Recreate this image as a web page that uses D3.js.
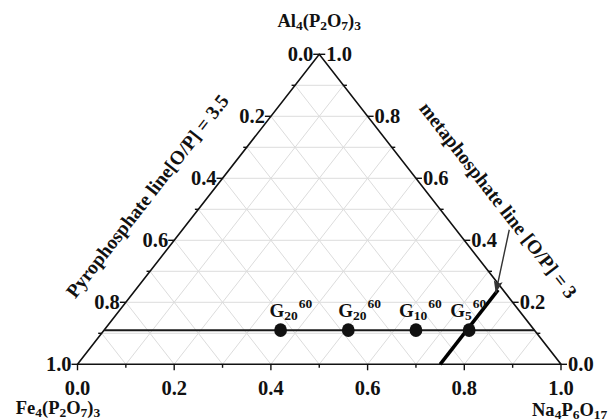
<!DOCTYPE html>
<html>
<head>
<meta charset="utf-8">
<script src="https://cdn.jsdelivr.net/npm/d3@7/dist/d3.min.js"></script>
<style>
html, body { margin: 0; padding: 0; background: #fff; }
#chart svg text { font-family: "Liberation Serif", "Times New Roman", serif; font-weight: bold; fill: #111; }
</style>
</head>
<body>
<div id="chart"></div>
<script>
// samples on the composition line, values as [Na4P6O17, Al4(P2O7)3] fractions
var sampleNames = ['G20', 'G20', 'G10', 'G5'];
var sampleSup = ['60', '60', '60', '60'];
var naFrac = [0.365, 0.505, 0.645, 0.755];
var alFrac = [0.11, 0.11, 0.11, 0.11];

// guide lines, [Na, Al]
var pyroLine = [[0, 0.11], [0.89, 0.11]];
var metaLine = [[0.75, 0], [0.75, 0.24]];
var arrowLine = [[0.676, 0.434], [0.75, 0.23]];

var majorTicks = [0.0, 0.2, 0.4, 0.6, 0.8, 1.0];
var minorTicks = [0.1, 0.3, 0.5, 0.7, 0.9];
var gridValues = [0.1, 0.2, 0.3, 0.4, 0.5, 0.6, 0.7, 0.8, 0.9];

var vertexLabels = {
	top: [['Al', 0], ['4', 1], ['(P', 0], ['2', 1], ['O', 0], ['7', 1], [')', 0], ['3', 1]],
	left: [['Fe', 0], ['4', 1], ['(P', 0], ['2', 1], ['O', 0], ['7', 1], [')', 0], ['3', 1]],
	right: [['Na', 0], ['4', 1], ['P', 0], ['6', 1], ['O', 0], ['17', 1]]
};

var labelShift = [-11, -10, -17, -19];

var W = 613, H = 419;
var svg = d3.select('#chart').append('svg').attr('width', W).attr('height', H);

var x = d3.scaleLinear().domain([0, 1]).range([77.5, 561]);
var y = d3.scaleLinear().domain([0, 1]).range([364.3, 54.3]);
var fmt = d3.format('.1f');

function pt(na, al) {
	return [x(na + al / 2), y(al)];
}

var edgeAngle = Math.atan2(y(1) - y(0), x(0.5) - x(0)) * 180 / Math.PI;

// grid
var grid = svg.append('g').attr('stroke', '#dcdcdc').attr('stroke-width', 1);
gridValues.forEach(function (t) {
	var segs = [
		[pt(0, t), pt(1 - t, t)],
		[pt(t, 0), pt(t, 1 - t)],
		[pt(1 - t, 0), pt(0, 1 - t)]
	];
	segs.forEach(function (s) {
		grid.append('line')
			.attr('x1', s[0][0]).attr('y1', s[0][1])
			.attr('x2', s[1][0]).attr('y2', s[1][1]);
	});
});

// frame
var corners = [pt(0, 0), pt(1, 0), pt(0, 1)];
svg.append('path')
	.attr('d', d3.line()(corners) + 'Z')
	.attr('fill', 'none').attr('stroke', '#111').attr('stroke-width', 1.6);

// ticks
var tk = svg.append('g').attr('stroke', '#111').attr('stroke-width', 1.4);
function addTicks(vals, len) {
	vals.forEach(function (v) {
		var b = pt(v, 0);
		tk.append('line').attr('x1', b[0]).attr('y1', b[1]).attr('x2', b[0]).attr('y2', b[1] + len);
		var l = pt(0, 1 - v);
		tk.append('line').attr('x1', l[0]).attr('y1', l[1]).attr('x2', l[0] - len).attr('y2', l[1]);
		var r = pt(1 - v, v);
		tk.append('line').attr('x1', r[0]).attr('y1', r[1]).attr('x2', r[0] + len).attr('y2', r[1]);
	});
}
addTicks(majorTicks, 6);
addTicks(minorTicks, 3.5);

var tl = svg.append('g').attr('font-size', 20.5);
majorTicks.forEach(function (v) {
	var b = pt(v, 0);
	tl.append('text').attr('x', b[0]).attr('y', 395).attr('text-anchor', 'middle').text(fmt(v));
	var l = pt(0, 1 - v);
	tl.append('text').attr('x', l[0] - 6).attr('y', l[1]).attr('dy', '0.35em').attr('text-anchor', 'end').text(fmt(v));
	var r = pt(1 - v, v);
	tl.append('text').attr('x', r[0] + 7).attr('y', r[1]).attr('dy', '0.35em').attr('text-anchor', 'start').text(fmt(v));
});

// vertex labels
function vertexLabel(parts, px, py, anchor) {
	var t = svg.append('text').attr('x', px).attr('y', py).attr('text-anchor', anchor).attr('font-size', 18.5);
	var prev = 0;
	parts.forEach(function (p) {
		var shift = p[1] ? 2.5 : 0;
		t.append('tspan')
			.attr('dy', shift - prev)
			.attr('font-size', p[1] ? 13.5 : 18.5)
			.text(p[0]);
		prev = shift;
	});
}
vertexLabel(vertexLabels.top, x(0.5), 27, 'middle');
vertexLabel(vertexLabels.left, 58, 414, 'middle');
vertexLabel(vertexLabels.right, 532, 416, 'start');

// pyrophosphate composition line
svg.append('path')
	.attr('d', d3.line()(pyroLine.map(function (d) { return pt(d[0], d[1]); })))
	.attr('stroke', '#1a1a1a').attr('stroke-width', 2).attr('fill', 'none');

// metaphosphate line
svg.append('path')
	.attr('d', d3.line()(metaLine.map(function (d) { return pt(d[0], d[1]); })))
	.attr('stroke', '#000').attr('stroke-width', 3.5).attr('fill', 'none');

// arrow
svg.append('defs').append('marker')
	.attr('id', 'arrowhead')
	.attr('markerUnits', 'userSpaceOnUse')
	.attr('markerWidth', 14).attr('markerHeight', 10)
	.attr('refX', 12).attr('refY', 4.5)
	.attr('orient', 'auto')
	.append('path').attr('d', 'M0,0 L12,4.5 L0,9 L2.5,4.5 Z').attr('fill', '#333');
svg.append('path')
	.attr('d', d3.line()(arrowLine.map(function (d) { return pt(d[0], d[1]); })))
	.attr('stroke', '#333').attr('stroke-width', 1.4).attr('fill', 'none')
	.attr('marker-end', 'url(#arrowhead)');

// samples
var samples = naFrac.map(function (n, i) {
	var p = pt(n, alFrac[i]);
	return { x: p[0], y: p[1], name: sampleNames[i], sup: sampleSup[i], dx: labelShift[i] };
});

svg.append('g').selectAll('ellipse').data(samples).enter().append('ellipse')
	.attr('cx', function (d) { return d.x; })
	.attr('cy', function (d) { return d.y; })
	.attr('rx', 6.4).attr('ry', 6.9)
	.attr('fill', '#111');

var lab = svg.append('g').selectAll('text').data(samples).enter().append('text')
	.attr('x', function (d) { return d.x + d.dx; })
	.attr('y', function (d) { return d.y - 13; })
	.attr('font-size', 19);
lab.append('tspan').text(function (d) { return d.name.charAt(0); });
lab.append('tspan').attr('font-size', 13.5).attr('dy', 3).text(function (d) { return d.name.slice(1); });
lab.append('tspan').attr('font-size', 13.5).attr('dx', 1).attr('dy', -12).text(function (d) { return d.sup; });

// rotated edge captions
svg.append('text')
	.attr('transform', 'translate(147,196) rotate(' + edgeAngle + ')')
	.attr('text-anchor', 'middle').attr('dy', '0.35em').attr('font-size', 19.5)
	.text('Pyrophosphate line[O/P] = 3.5');
svg.append('text')
	.attr('transform', 'translate(498.5,200) rotate(' + (-edgeAngle) + ')')
	.attr('text-anchor', 'middle').attr('dy', '0.35em').attr('font-size', 19.5)
	.text('metaphosphate line [O/P] = 3');
</script>
</body>
</html>
